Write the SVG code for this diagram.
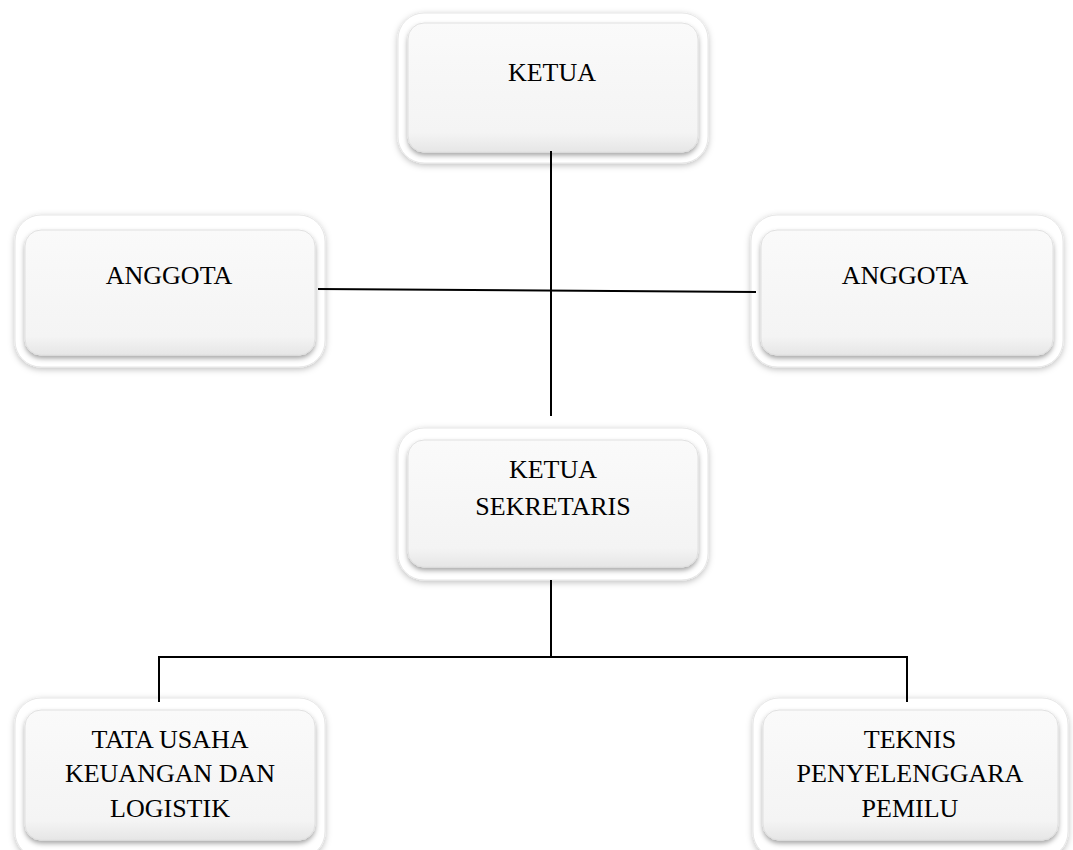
<svg xmlns="http://www.w3.org/2000/svg" width="1073" height="850" viewBox="0 0 1073 850">
<defs>
<filter id="outerShadow" x="-10%" y="-10%" width="120%" height="125%">
<feDropShadow dx="0" dy="2" stdDeviation="3" flood-color="#000" flood-opacity="0.25"/>
</filter>
<filter id="innerShadow" x="-10%" y="-10%" width="120%" height="125%">
<feDropShadow dx="0" dy="3" stdDeviation="2.5" flood-color="#000" flood-opacity="0.35"/>
</filter>
<linearGradient id="innerFill" x1="0" y1="0" x2="0" y2="1">
<stop offset="0" stop-color="#fafafa"/>
<stop offset="0.85" stop-color="#f4f4f4"/>
<stop offset="1" stop-color="#e6e6e6"/>
</linearGradient>
</defs>
<style>
.outer{fill:#ffffff;stroke:#e6e6e6;stroke-width:1;filter:url(#outerShadow)}
.inner{fill:url(#innerFill);stroke:#e0e0e0;stroke-width:1;filter:url(#innerShadow)}
.lbl{font-family:"Liberation Serif","Times New Roman",serif;font-size:26px;fill:#000;text-anchor:middle}
.conn{stroke:#000;stroke-width:2;fill:none}
</style>
<rect width="1073" height="850" fill="#ffffff"/>
<g id="ketua">
<rect class="outer" x="398" y="13" width="310" height="150" rx="26"/>
<rect class="inner" x="408" y="23" width="290" height="129" rx="16"/>
<text class="lbl" x="552" y="81">KETUA</text>
</g>
<g id="anggota-left">
<rect class="outer" x="15" y="215" width="310" height="152" rx="26"/>
<rect class="inner" x="25" y="230" width="290" height="125" rx="16"/>
<text class="lbl" x="169" y="284">ANGGOTA</text>
</g>
<g id="anggota-right">
<rect class="outer" x="751" y="215" width="312" height="152" rx="26"/>
<rect class="inner" x="761" y="230" width="292" height="125" rx="16"/>
<text class="lbl" x="905" y="284">ANGGOTA</text>
</g>
<g id="ketua-sekretaris">
<rect class="outer" x="398" y="428" width="310" height="152" rx="26"/>
<rect class="inner" x="408" y="440" width="290" height="127" rx="16"/>
<text class="lbl" x="553" y="478">KETUA</text>
<text class="lbl" x="553" y="515">SEKRETARIS</text>
</g>
<g id="tata-usaha">
<rect class="outer" x="15" y="698" width="310" height="160" rx="26"/>
<rect class="inner" x="25" y="710" width="290" height="130" rx="16"/>
<text class="lbl" x="170" y="748">TATA USAHA</text>
<text class="lbl" x="170" y="782">KEUANGAN DAN</text>
<text class="lbl" x="170" y="817">LOGISTIK</text>
</g>
<g id="teknis">
<rect class="outer" x="753" y="698" width="315" height="160" rx="26"/>
<rect class="inner" x="763" y="710" width="295" height="130" rx="16"/>
<text class="lbl" x="910" y="748">TEKNIS</text>
<text class="lbl" x="910" y="782">PENYELENGGARA</text>
<text class="lbl" x="910" y="817">PEMILU</text>
</g>
<g id="connectors">
<line class="conn" x1="551" y1="151" x2="551" y2="416"/>
<line class="conn" x1="318" y1="289" x2="756" y2="292"/>
<polyline class="conn" points="551,580 551,657 159,657 159,702"/>
<polyline class="conn" points="551,657 907,657 907,702"/>
</g>
</svg>
